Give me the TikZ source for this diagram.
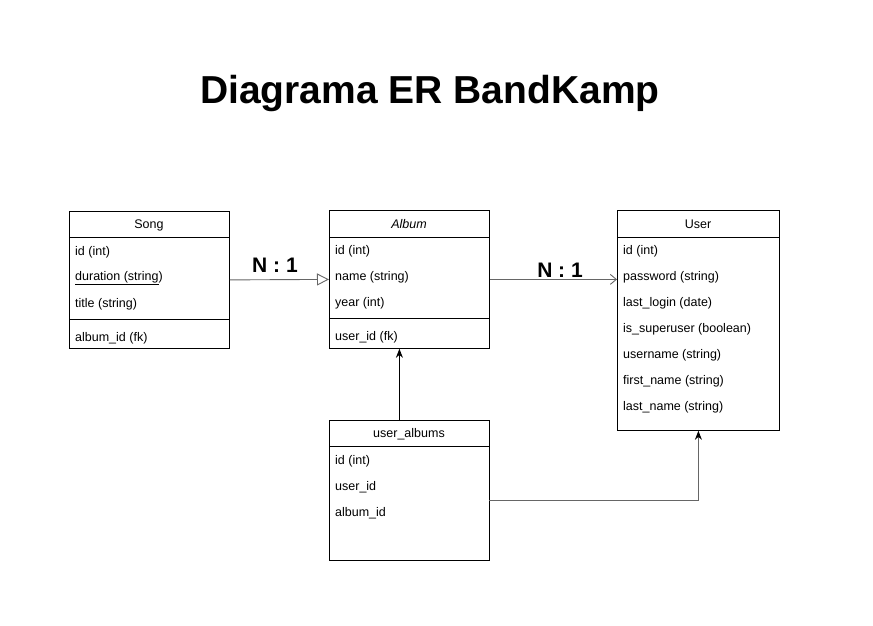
\documentclass[tikz,border=0pt]{standalone}
\usepackage{fontspec}
\setmainfont{Liberation Sans}
\usetikzlibrary{arrows.meta}
\begin{document}
\begin{tikzpicture}[x=1pt,y=-1pt,
  box/.style={draw=black,line width=0.8pt,minimum width=160pt,inner sep=0pt,anchor=north west},
  head/.style={font=\fontsize{12.5}{14}\selectfont,anchor=center,yshift=-1.5pt},
  row/.style={font=\fontsize{12.5}{14}\selectfont,anchor=west,inner sep=0pt,yshift=-2pt},
  rel/.style={font=\bfseries\fontsize{21}{24}\selectfont,anchor=center},
  conn/.style={draw=black!60,line width=0.9pt},
  sep/.style={draw=black,line width=0.8pt}]
\useasboundingbox (0,0) rectangle (873,626);
\node[font=\bfseries\fontsize{39}{44}\selectfont] (title) at (430,94) {Diagrama ER BandKamp};

% Song
\node[box,minimum height=137pt] (song) at (69,211) {};
\node[head] (songh) at (149,224) {Song};
\draw[sep] (69,237) -- (229,237);
\node[row] (s1) at (75,250) {id (int)};
\node[row] (s2) at (75,276) {\underline{duration (string})};
\node[row] (s3) at (75,302) {title (string)};
\draw[sep] (69,319) -- (229,319);
\node[row] (s4) at (75,336) {album\_id (fk)};

% Album
\node[box,minimum height=138pt] (album) at (329,210) {};
\node[head,font=\itshape\fontsize{12.5}{14}\selectfont] (albumh) at (409,223) {Album};
\draw[sep] (329,237) -- (489,237);
\node[row] (a1) at (335,249) {id (int)};
\node[row] (a2) at (335,275) {name (string)};
\node[row] (a3) at (335,301) {year (int)};
\draw[sep] (329,318) -- (489,318);
\node[row] (a4) at (335,335) {user\_id (fk)};

% User
\node[box,minimum width=162pt,minimum height=220pt] (user) at (617,210) {};
\node[head] (userh) at (698,223) {User};
\draw[sep] (617,237) -- (779,237);
\node[row] (u1) at (623,249) {id (int)};
\node[row] (u2) at (623,275) {password (string)};
\node[row] (u3) at (623,301) {last\_login (date)};
\node[row] (u4) at (623,327) {is\_superuser (boolean)};
\node[row] (u5) at (623,353) {username (string)};
\node[row] (u6) at (623,379) {first\_name (string)};
\node[row] (u7) at (623,405) {last\_name (string)};

% user_albums
\node[box,minimum height=140pt] (ua) at (329,420) {};
\node[head] (uah) at (409,433) {user\_albums};
\draw[sep] (329,446) -- (489,446);
\node[row] (ua1) at (335,459) {id (int)};
\node[row] (ua2) at (335,485) {user\_id};
\node[row] (ua3) at (335,511) {album\_id};

% connectors
\draw[conn,-{Triangle[open,length=12pt,width=12pt]}] (song.east) -- (album.west);
\node[rel] (r1) at (275,265) {N : 1};
\draw[conn,-{Straight Barb[length=6pt,width=10pt]}] (album.east) -- (album.east -| user.west);
\node[rel] (r2) at (560,270) {N : 1};
\draw[line width=0.9pt,-{Stealth[length=9pt,width=7pt]}] ([xshift=-10pt]ua.north) -- ([xshift=-10pt]album.south);
\coordinate (uaout) at (489,500);
\draw[conn,-{Stealth[length=9pt,width=7pt,black]}] (uaout) -| (user.south);
\end{tikzpicture}
\end{document}
